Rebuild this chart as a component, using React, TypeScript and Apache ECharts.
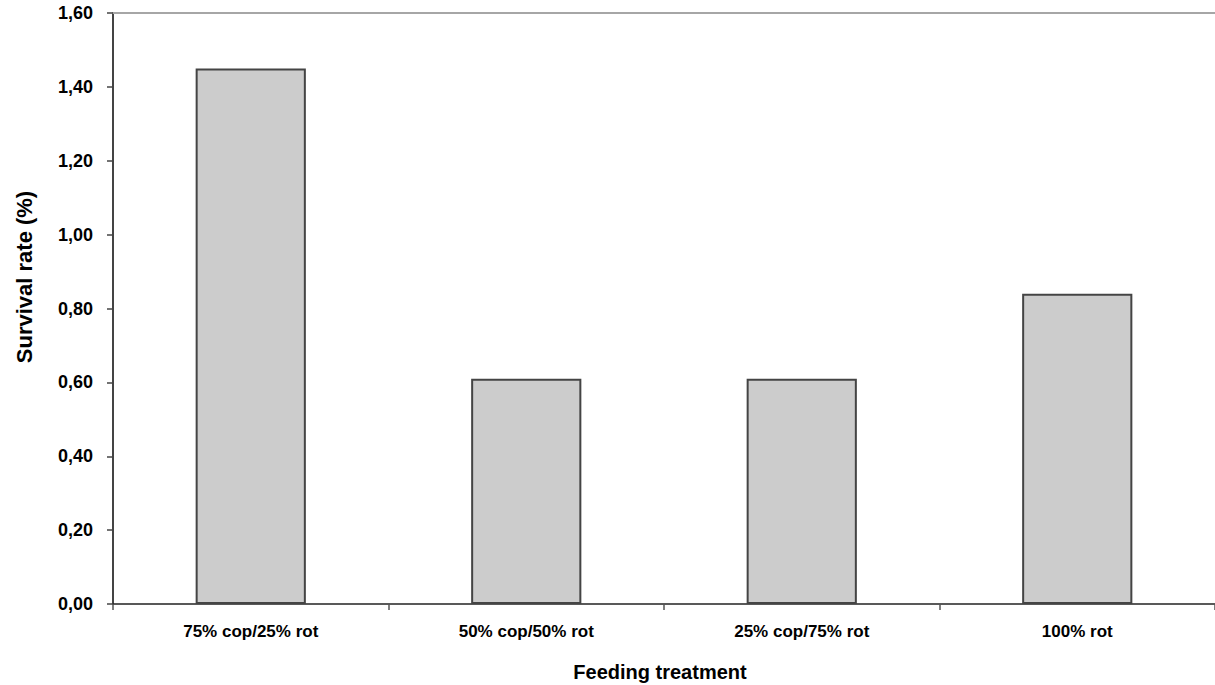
import React, { useEffect, useRef } from "react";
import * as echarts from "echarts";

const categories = ["75% cop/25% rot", "50% cop/50% rot", "25% cop/75% rot", "100% rot"];
const survivalRate = [1.45, 0.61, 0.61, 0.84];
const yMin = 0;
const yMax = 1.6;
const yStep = 0.2;
const xTitle = "Feeding treatment";
const yTitle = "Survival rate (%)";

const FONT = "'Liberation Sans', Arial, sans-serif";

export default function App() {
  const ref = useRef<HTMLDivElement>(null);
  useEffect(() => {
    if (!ref.current) return;
    const chart = echarts.init(ref.current, null, { renderer: "svg" });
    chart.setOption({
      animation: false,
      backgroundColor: "#ffffff",
      grid: { left: 113, right: -6, top: 13, bottom: 81, containLabel: false },
      xAxis: [
        {
          type: "category",
          data: categories,
          position: "bottom",
          axisLine: { show: true, lineStyle: { color: "#222", width: 1.5 } },
          axisTick: { show: true, alignWithLabel: false, length: 6, lineStyle: { color: "#555", width: 1.5 } },
          axisLabel: {
            margin: 19,
            fontFamily: FONT,
            fontWeight: "bold",
            fontSize: 17,
            color: "#000",
          },
        },
        {
          type: "category",
          data: categories,
          position: "top",
          axisLine: { show: true, lineStyle: { color: "#a6a6a6", width: 2 } },
          axisTick: { show: false },
          axisLabel: { show: false },
        },
      ],
      yAxis: {
        type: "value",
        min: yMin,
        max: yMax,
        interval: yStep,
        axisLine: { show: true, lineStyle: { color: "#444", width: 2 } },
        axisTick: { show: true, length: 6, lineStyle: { color: "#444", width: 1.5 } },
        splitLine: { show: false },
        axisLabel: {
          margin: 20,
          fontFamily: FONT,
          fontWeight: "bold",
          fontSize: 18,
          color: "#000",
          formatter: (v: number) => v.toFixed(2).replace(".", ","),
        },
      },
      graphic: [
        {
          type: "text",
          x: 660,
          y: 672,
          style: {
            text: xTitle,
            fontFamily: FONT,
            fontWeight: "bold",
            fontSize: 20,
            fill: "#000",
            align: "center",
            verticalAlign: "middle",
          },
        },
        {
          type: "text",
          x: 24,
          y: 277,
          rotation: Math.PI / 2,
          style: {
            text: yTitle,
            fontFamily: FONT,
            fontWeight: "bold",
            fontSize: 22,
            fill: "#000",
            align: "center",
            verticalAlign: "middle",
          },
        },
      ],
      series: [
        {
          type: "bar",
          xAxisIndex: 0,
          data: survivalRate,
          barWidth: "40%",
          itemStyle: { color: "#cccccc", borderColor: "#444444", borderWidth: 2 },
        },
      ],
    });
    return () => chart.dispose();
  }, []);
  return (
    <div
      ref={ref}
      style={{ position: "fixed", left: 0, top: 0, width: 1215, height: 685, background: "#fff" }}
    />
  );
}
